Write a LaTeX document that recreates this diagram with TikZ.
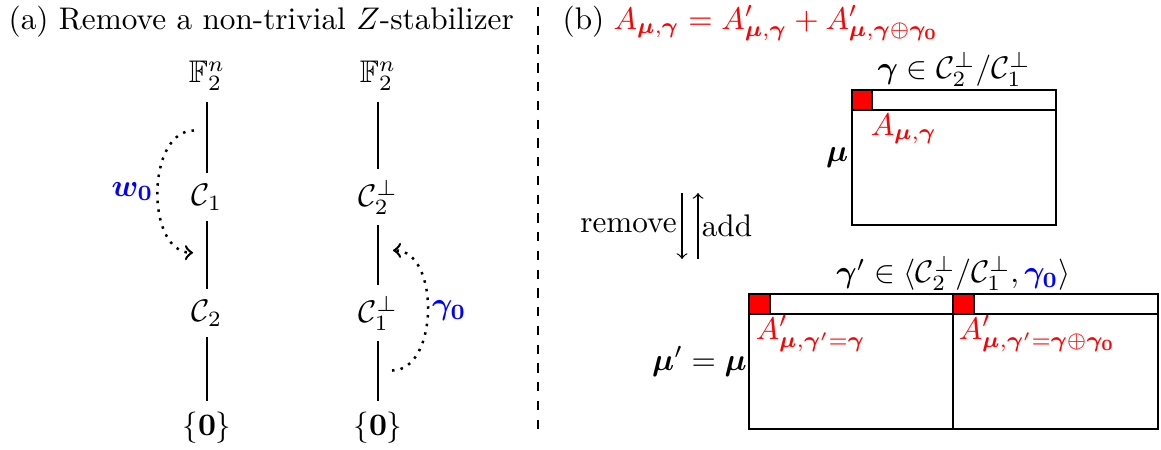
\documentclass[tikz,border=0pt]{standalone}
\usepackage{amsmath,amssymb,bm}
\usetikzlibrary{calc}
\begin{document}
\begin{tikzpicture}[x=0.32pt,y=-0.32pt,
  darrow/.style={->,dotted,thick},
  captxt/.style={anchor=base west,inner sep=0pt},
  lbl/.style={inner sep=1pt},
  redsq/.style={draw=black,fill=red}]
\useasboundingbox (0,0) rectangle (1161,449);

% ---------- (a) ----------
\node[captxt] (capa) at (8,29) {(a) Remove a non-trivial $Z$-stabilizer};
\node (F1) at (207,76) {$\mathbb{F}_2^n$};
\node (C1) at (207,197) {$\mathcal{C}_1$};
\node (C2) at (207,313) {$\mathcal{C}_2$};
\node (Z1) at (207,428) {$\{\mathbf{0}\}$};
\node (F2) at (378,76) {$\mathbb{F}_2^n$};
\node (P2) at (378,197) {$\mathcal{C}_2^{\perp}$};
\node (P1) at (378,313) {$\mathcal{C}_1^{\perp}$};
\node (Z2) at (378,428) {$\{\mathbf{0}\}$};
\draw (F1) -- (C1) -- (C2) -- (Z1);
\draw (F2) -- (P2) -- (P1) -- (Z2);

\coordinate (ws) at ($(F1)!0.45!(C1)+(-13,0)$);
\coordinate (we) at ($(C1)!0.48!(C2)+(-14,0)$);
\draw[darrow] (ws) to[out=180,in=180] node[left,lbl,blue] {$\bm{w_0}$} (we);
\coordinate (gs) at ($(P1)!0.5!(Z2)+(14,0)$);
\coordinate (ge) at ($(P2)!0.46!(P1)+(15,0)$);
\draw[darrow] (gs) to[out=0,in=0] node[right,lbl,blue] {$\bm{\gamma_0}$} (ge);

% divider
\coordinate (dt) at (538,7);
\coordinate (db) at (538,430);
\draw[dashed] (dt) -- (db);

% ---------- (b) ----------
\node[captxt] (capb) at (562,29) {(b)};
\node[captxt,red] (eq) at (613,29) {$A_{\bm\mu,\bm\gamma} = A'_{\bm\mu,\bm\gamma} + A'_{\bm\mu,\bm\gamma\oplus\bm{\gamma_0}}$};

% top box
\coordinate (T1) at (852,90);
\coordinate (T2) at (1056,225);
\coordinate (TS) at (852,110);
\coordinate (TQ) at (872,110);
\draw (T1) rectangle (T2);
\draw (TS) -- (TS -| T2);
\draw[redsq] (T1) rectangle (TQ);
\node[above,lbl] (tt) at ($(T1)!0.5!(T1 -| T2)$) {$\bm\gamma \in \mathcal{C}_2^{\perp}/\mathcal{C}_1^{\perp}$};
\node[left,lbl] (mu) at ($(T1)!0.5!(T1 |- T2)$) {$\bm\mu$};
\node[anchor=north west,lbl,red] (A1) at (867,110) {$A_{\bm\mu,\bm\gamma}$};

% remove / add
\coordinate (r1) at (682,193);
\coordinate (r2) at (682,259);
\coordinate (u1) at (698,259);
\coordinate (u2) at (698,193);
\draw[->] (r1) -- node[left,inner sep=1.5pt] {remove} (r2);
\draw[->] (u1) -- node[right,lbl] {add} (u2);

% bottom box
\coordinate (B1) at (749,294);
\coordinate (B2) at (1158,429);
\coordinate (BM) at (953,294);
\coordinate (BS) at (749,314);
\coordinate (BQ1) at (770,314);
\coordinate (BQ2) at (974,314);
\draw (B1) rectangle (B2);
\draw (BS) -- (BS -| B2);
\draw (BM) -- (BM |- B2);
\draw[redsq] (B1) rectangle (BQ1);
\draw[redsq] (BM) rectangle (BQ2);
\node[above,lbl] (bt) at ($(B1)!0.5!(B1 -| B2)$) {$\bm\gamma' \in \langle \mathcal{C}_2^{\perp}/\mathcal{C}_1^{\perp}, {\color{blue}\bm{\gamma_0}}\rangle$};
\node[left,inner sep=0.5pt] (mup) at ($(B1)!0.5!(B1 |- B2)$) {$\bm\mu' = \bm\mu$};
\node[anchor=north west,lbl,red] (A2) at (752,312) {$A'_{\bm\mu,\bm\gamma'=\bm\gamma}$};
\node[anchor=north west,lbl,red] (A3) at (955,312) {$A'_{\bm\mu,\bm\gamma'=\bm\gamma\oplus\bm{\gamma_0}}$};
\end{tikzpicture}
\end{document}
